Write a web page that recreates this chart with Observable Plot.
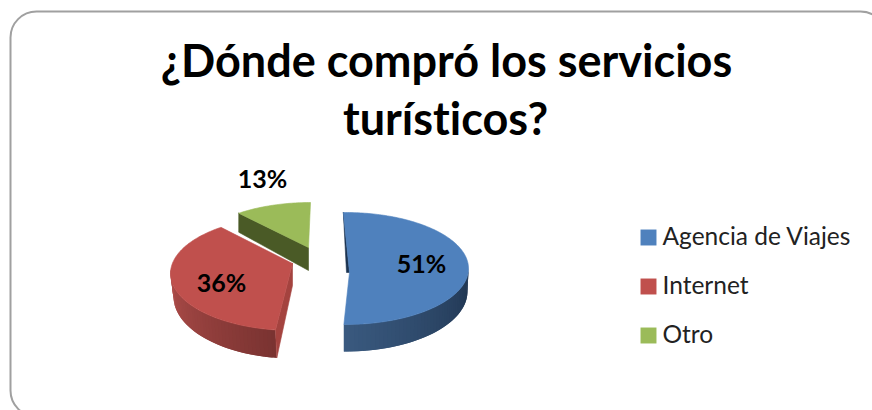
<!DOCTYPE html>
<html>
<head>
<meta charset="utf-8">
<script src="https://cdn.jsdelivr.net/npm/d3@7"></script>
<script src="https://cdn.jsdelivr.net/npm/@observablehq/plot@0.6"></script>
<style>html,body{margin:0;padding:0;background:#fff;overflow:hidden}svg{display:block}</style>
</head>
<body>
<div id="chart"></div>
<script>
// Data
const categories = ["Agencia de Viajes", "Internet", "Otro"];
const values = [51, 36, 13];
const titleLines = ["¿Dónde compró los servicios", "turísticos?"];
const colors = ["#4f81bd", "#c0504d", "#9bbb59"];

// 3D view layout of each exploded slice (scene units match the frame)
const view = [
  {cx:345, cy:268, rx:123, ry:56, ax:349, ay:272, start:-1, warp:0.99,
   bx:345, by:291, brx:122, bry:60, sideFrom:88,
   sideA:"#1f344f", sideB:"#3a5a80", lx:421, ly:264},
  {cx:292, cy:273, rx:122, ry:57, ax:292, ay:263, start:188, warp:1.05,
   bx:293, by:296, brx:120, bry:62, sideTo:274,
   sideA:"#7a3331", sideB:"#b34f4c", face:"#a4433f", lx:221, ly:283},
  {cx:310, cy:258, rx:122, ry:56, ax:308, ay:247, start:null, warp:0.77,
   depth:23, face:"#4a5a26", lx:262, ly:179}
];

const rad = d => d * Math.PI / 180;
const rim = (cx, cy, rx, ry, t) => [cx + rx * Math.sin(rad(t)), cy - ry * Math.cos(rad(t))];

const flat = [];   // faces with an edge stroke
const side = [];   // overlapping gradient strips without a stroke
let id = 0;
const add = (list, pts, color) => {
  id++;
  pts.concat([pts[0]]).forEach(p => list.push({id, x:p[0], y:p[1], color}));
};
const order = [];

[2, 1, 0].forEach(i => {
  const v = view[i];
  const span = values[i] / 100 * 360 * v.warp;
  const t1 = v.start === null ? 360 - span : v.start;
  const t2 = t1 + span;
  const top = d3.range(t1, t2, 1).concat([t2]).map(t => rim(v.cx, v.cy, v.rx, v.ry, t));
  const list = [];

  if (i === 2) {
    const c = top[0];
    add(list, [c, [c[0], c[1] + v.depth - 4], [v.ax, v.ay + v.depth], [v.ax, v.ay]], v.face);
  } else {
    const from = i === 0 ? v.sideFrom : t1;
    const to = i === 0 ? t2 : v.sideTo;
    const color = d3.interpolateRgb(v.sideA, v.sideB);
    const steps = d3.range(from, to, 2);
    steps.forEach(t => {
      const e = Math.min(t + 4, to);
      add(side, [rim(v.cx, v.cy, v.rx, v.ry, t), rim(v.cx, v.cy, v.rx, v.ry, e),
           rim(v.bx, v.by, v.brx, v.bry, e), rim(v.bx, v.by, v.brx, v.bry, t)],
          color((t - from) / (to - from)));
    });
    if (i === 1) {
      const a = top[0], b = rim(v.bx, v.by, v.brx, v.bry, t1);
      add(list, [[v.ax, v.ay], a, b, [v.ax, v.ay + 22]], v.face);
    } else {
      add(list, [top[0], [v.ax, v.ay], [v.ax - 3, v.ay]], "#1b3350");
    }
  }
  add(list, [[v.ax, v.ay], ...top], colors[i]);
  order.push(list);
});

const faces = order.flat();
const labels = values.map((d, i) => ({t: d + "%", x: view[i].lx, y: view[i].ly}));
const legend = categories.map((c, i) => ({c, x: 648, tx: 662, y: 237 + i * 49, color: colors[i]}));
const title = titleLines.map((t, i) => ({t, x: i ? 445 : 446, y: 62 + i * 58}));

const font = "Lato, Carlito, Calibri, sans-serif";
const chart = Plot.plot({
  width: 872, height: 410,
  margin: 0,
  x: {domain: [0, 872], range: [0, 872], axis: null},
  y: {domain: [0, 410], range: [0, 410], axis: null},
  color: {type: "identity"},
  style: {background: "#fff", fontVariantLigatures: "none"},
  marks: [
    Plot.frame({insetLeft:10, insetTop:11, insetRight:-14, insetBottom:-6, rx:26, stroke:"#a0a0a0", strokeWidth:2}),
    Plot.line(side, {x:"x", y:"y", z:"id", fill:"color", stroke:"none", curve:"linear"}),
    Plot.line(faces, {x:"x", y:"y", z:"id", fill:"color", stroke:"color", strokeWidth:0.6, curve:"linear"}),
    Plot.text(title, {x:"x", y:"y", text:"t", fontSize:45, fontWeight:700, fontFamily:font, fill:"#000"}),
    Plot.text(labels, {x:"x", y:"y", text:"t", fontSize:25, fontWeight:700, fontFamily:font, fill:"#000"}),
    Plot.dot(legend, {x:"x", y:"y", symbol:"square", r:9, fill:"color"}),
    Plot.text(legend, {x:"tx", y:"y", text:"c", textAnchor:"start", fontSize:24.5, fontFamily:font, fill:"#222"})
  ]
});
document.getElementById("chart").appendChild(chart);
</script>
</body>
</html>
